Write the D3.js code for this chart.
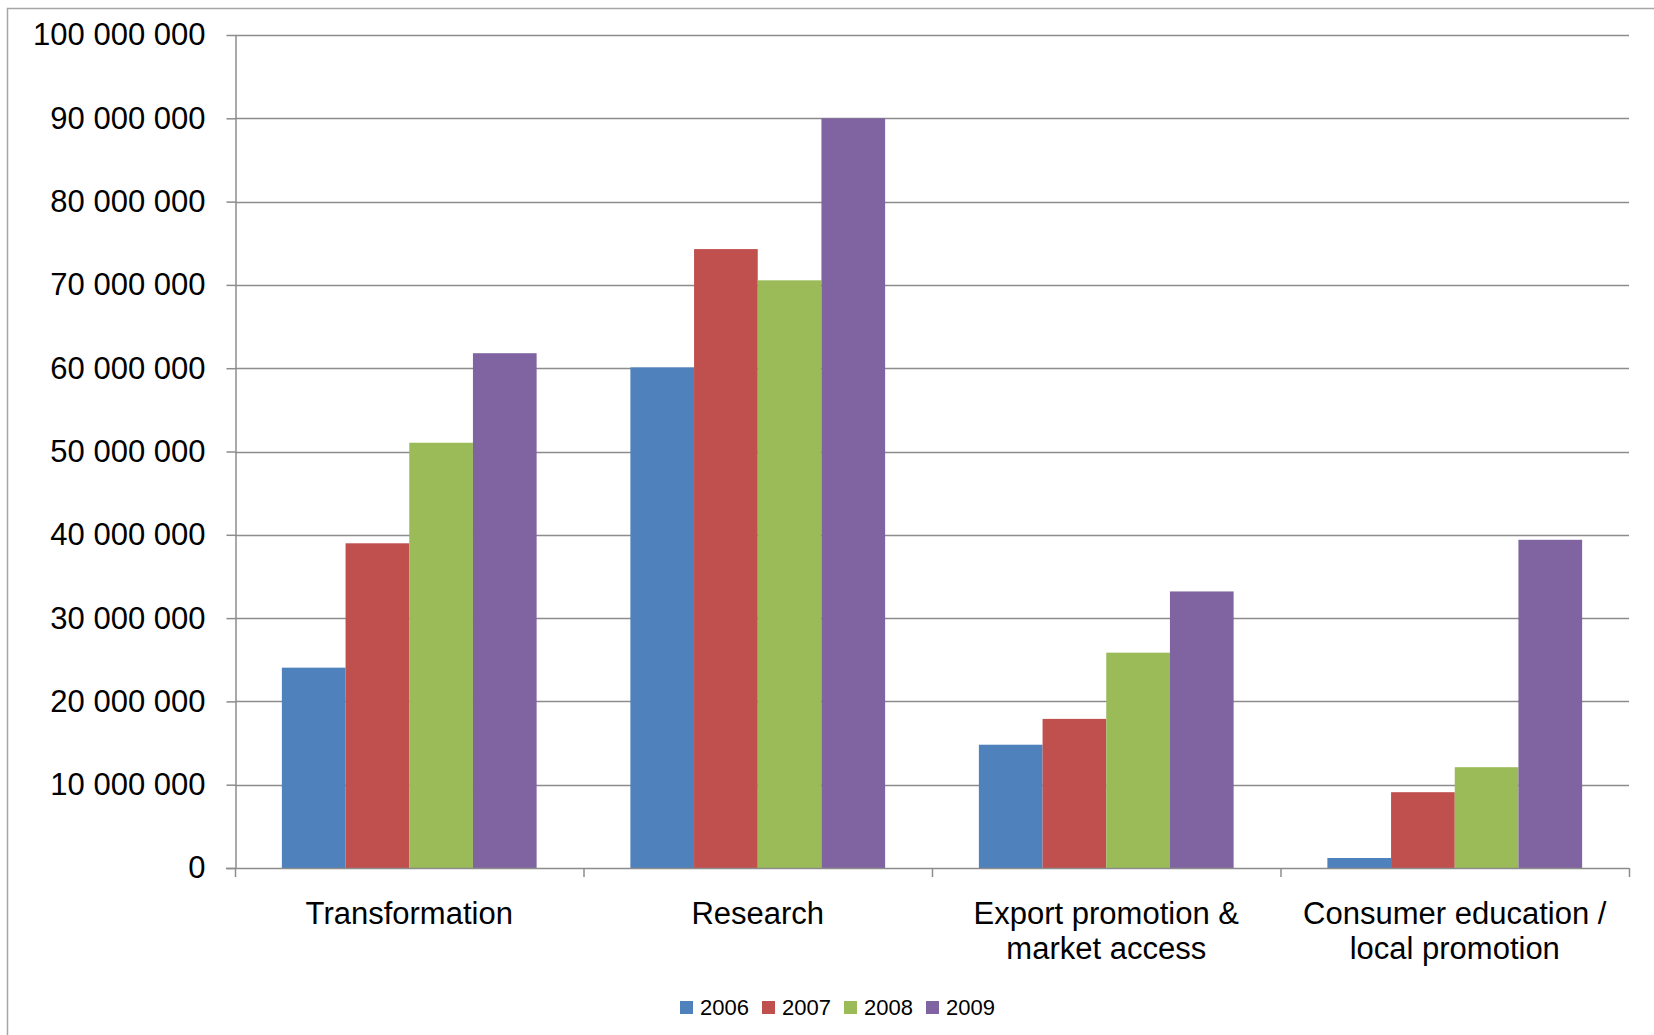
<!DOCTYPE html>
<html>
<head>
<meta charset="utf-8">
<script src="https://cdn.jsdelivr.net/npm/d3@7"></script>
<style>
  body { margin: 0; background: #fff; }
  svg { display: block; font-family: "Liberation Sans", Arial, sans-serif; }
</style>
</head>
<body>
<script>
// Chart data
const categories = [
    ['Transformation'],
    ['Research'],
    ['Export promotion &', 'market access'],
    ['Consumer education /', 'local promotion'],
];
const years = ['2006', '2007', '2008', '2009'];
const values2006 = [24050000, 60100000, 14800000, 1200000];
const values2007 = [38980000, 74300000, 17900000, 9100000];
const values2008 = [51050000, 70550000, 25850000, 12100000];
const values2009 = [61800000, 90000000, 33200000, 39400000];
const yTicks = [0, 10e6, 20e6, 30e6, 40e6, 50e6, 60e6, 70e6, 80e6, 90e6, 100e6];
const colors = ['#4F81BD', '#C0504D', '#9BBB59', '#8064A2'];

const series = [values2006, values2007, values2008, values2009];
const catKeys = categories.map(c => c.join(' '));

const W = 1654, H = 1035;
const svg = d3.select('body').append('svg').attr('width', W).attr('height', H);

// outer chart border (only top and left visible)
svg.append('rect')
    .attr('x', 7.5).attr('y', 8.5)
    .attr('width', 1800).attr('height', 1200)
    .attr('fill', 'none').attr('stroke', '#a6a6a6').attr('stroke-width', 1.5);

const plot = { left: 235, right: 1629, top: 35, bottom: 868 };

const y = d3.scaleLinear().domain([0, 100e6]).range([plot.bottom, plot.top]);
const x0 = d3.scaleBand().domain(catKeys).range([plot.left, plot.right]).padding(0);
const x1 = d3.scaleBand().domain(years).range([0, x0.bandwidth()]).paddingInner(0).paddingOuter(0.736);

// gridlines
svg.append('g')
    .selectAll('line')
    .data(yTicks.filter(d => d > 0))
    .join('line')
    .attr('x1', plot.left).attr('x2', plot.right)
    .attr('y1', d => Math.round(y(d)) + 0.5).attr('y2', d => Math.round(y(d)) + 0.5)
    .attr('stroke', '#8c8c8c').attr('stroke-width', 1.5);

// bars
const groups = svg.append('g')
    .selectAll('g')
    .data(catKeys)
    .join('g')
    .attr('transform', d => `translate(${x0(d)},0)`);

groups.selectAll('rect')
    .data((d, i) => years.map((yr, j) => ({ yr, v: series[j][i], c: colors[j] })))
    .join('rect')
    .attr('x', d => x1(d.yr))
    .attr('width', x1.bandwidth())
    .attr('y', d => y(d.v))
    .attr('height', d => y(0) - y(d.v))
    .attr('fill', d => d.c);

// y axis
const yAxis = d3.axisLeft(y)
    .tickValues(yTicks)
    .tickSize(9)
    .tickSizeOuter(0)
    .tickPadding(21)
    .tickFormat(d => d3.format(',')(d).replace(/,/g, ' '));

const yg = svg.append('g')
    .attr('transform', `translate(${plot.left + 0.5},0)`)
    .call(yAxis);
yg.select('.domain').attr('stroke', '#8c8c8c').attr('stroke-width', 1.5);
yg.selectAll('.tick line').attr('stroke', '#8c8c8c').attr('stroke-width', 1.5);
yg.selectAll('.tick text')
    .attr('fill', '#000')
    .style('font-size', '31px')
    .style('font-family', '"Liberation Sans", Arial, sans-serif');

// x axis line and category ticks
svg.append('line')
    .attr('x1', plot.left - 9).attr('x2', plot.right)
    .attr('y1', y(0) + 0.5).attr('y2', y(0) + 0.5)
    .attr('stroke', '#8c8c8c').attr('stroke-width', 1.5);

const tickXs = catKeys.map(d => x0(d)).concat([x0(catKeys[catKeys.length - 1]) + x0.bandwidth()]);
svg.append('g')
    .selectAll('line')
    .data(tickXs)
    .join('line')
    .attr('x1', d => d + 0.5).attr('x2', d => d + 0.5)
    .attr('y1', y(0)).attr('y2', y(0) + 9)
    .attr('stroke', '#8c8c8c').attr('stroke-width', 1.5);

// category labels
const labels = svg.append('g')
    .selectAll('text')
    .data(categories)
    .join('text')
    .attr('text-anchor', 'middle')
    .attr('fill', '#000')
    .style('font-size', '31px');

labels.selectAll('tspan')
    .data((d, i) => d.map(line => ({ line, i })))
    .join('tspan')
    .attr('x', d => x0(catKeys[d.i]) + x0.bandwidth() / 2)
    .attr('y', (d, k) => 924 + k * 35)
    .text(d => d.line);

// legend
const legendX = [680, 762, 844, 926];
const legend = svg.append('g')
    .selectAll('g')
    .data(years)
    .join('g')
    .attr('transform', (d, i) => `translate(${legendX[i]},1001)`);

legend.append('rect')
    .attr('width', 13).attr('height', 13)
    .attr('fill', (d, i) => colors[i]);

legend.append('text')
    .attr('x', 20).attr('y', 14)
    .attr('fill', '#000')
    .style('font-size', '22px')
    .text(d => d);
</script>
</body>
</html>
